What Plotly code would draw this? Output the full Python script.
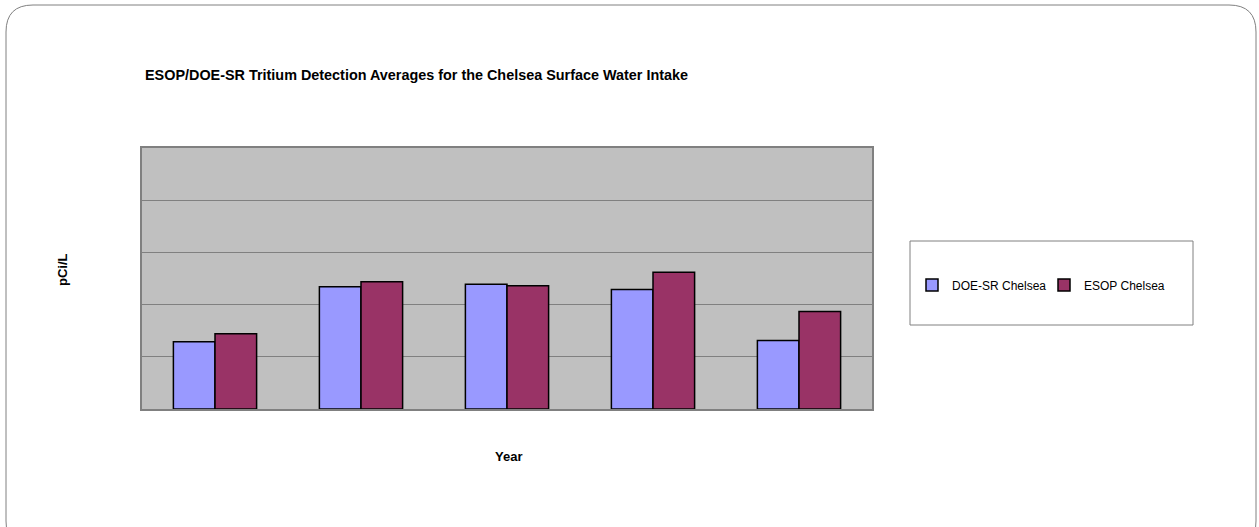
import plotly.graph_objects as go

# Data (no tick labels are shown on the chart)
categories = ["1", "2", "3", "4", "5"]
doe_sr_chelsea = [1.29, 2.34, 2.39, 2.29, 1.31]
esop_chelsea = [1.44, 2.44, 2.36, 2.62, 1.87]
y_ticks = [0, 1, 2, 3, 4, 5]

W, H = 1259, 527
# plot-area edges in page pixels
PL, PR, PT, PB = 142, 872, 148, 409
L, R, T, B = PL, PR, PT, PB


def px(x):
    """page pixel x -> paper fraction"""
    return (x - PL) / (PR - PL)


def py(y):
    """page pixel y -> paper fraction"""
    return (PB - y) / (PB - PT)


font = "Liberation Sans, Arial, sans-serif"

fig = go.Figure()
fig.add_trace(go.Bar(
    x=categories, y=doe_sr_chelsea, name="DOE-SR Chelsea",
    marker=dict(color="#9999FF", line=dict(color="#000000", width=1.5)),
))
fig.add_trace(go.Bar(
    x=categories, y=esop_chelsea, name="ESOP Chelsea",
    marker=dict(color="#993366", line=dict(color="#000000", width=1.5)),
))

# outer rounded border
r = 27
x0, x1, y0, y1 = px(6), px(1256), py(5), py(548)
rx = r / (PR - PL)
ry = r / (PB - PT)
path = (f"M {x0},{y0 - ry} Q {x0},{y0} {x0 + rx},{y0} L {x1 - rx},{y0} "
        f"Q {x1},{y0} {x1},{y0 - ry} L {x1},{y1 + ry} Q {x1},{y1} {x1 - rx},{y1} "
        f"L {x0 + rx},{y1} Q {x0},{y1} {x0},{y1 + ry} Z")

fig.update_layout(
    width=W, height=H,
    margin=dict(l=L, r=W - R, t=T, b=H - B, pad=0),
    paper_bgcolor="white",
    plot_bgcolor="#C0C0C0",
    barmode="group",
    bargap=0.43,
    bargroupgap=0,
    font=dict(family=font, size=12, color="#000000"),
    title=dict(
        text="<b>ESOP/DOE-SR Tritium Detection Averages for the Chelsea Surface Water Intake</b>",
        x=px(145), xref="paper", xanchor="left",
        y=1 - 75 / H, yref="container", yanchor="middle",
        font=dict(family=font, size=14.4, color="#000000"),
    ),
    xaxis=dict(
        showticklabels=False, ticks="", showgrid=False,
        showline=True, linecolor="#808080", linewidth=1.5, mirror=True,
    ),
    yaxis=dict(
        range=[0, 5], tickvals=y_ticks, showticklabels=False, ticks="",
        showgrid=True, gridcolor="#808080", gridwidth=1,
        showline=True, linecolor="#808080", linewidth=1.5, mirror=True,
        zeroline=False,
    ),
    showlegend=True,
    legend=dict(
        orientation="h",
        x=px(912), y=py(285), xanchor="left", yanchor="middle",
        bgcolor="rgba(0,0,0,0)", borderwidth=0,
        font=dict(family=font, size=12),
        itemwidth=30, entrywidth=87, entrywidthmode="pixels",
        traceorder="normal",
    ),
    shapes=[
        dict(type="rect", xref="paper", yref="paper",
             x0=px(910), x1=px(1193), y0=py(241), y1=py(325),
             line=dict(color="#808080", width=1), fillcolor="rgba(0,0,0,0)"),
        dict(type="path", xref="paper", yref="paper", path=path,
             line=dict(color="#808080", width=1), fillcolor="rgba(0,0,0,0)",
             layer="below"),
    ],
    annotations=[
        dict(text="<b>pCi/L</b>", xref="paper", yref="paper",
             x=px(62), y=py(270), textangle=-90, showarrow=False,
             xanchor="center", yanchor="middle",
             font=dict(family=font, size=13)),
        dict(text="<b>Year</b>", xref="paper", yref="paper",
             x=px(508), y=py(456), showarrow=False,
             xanchor="center", yanchor="middle",
             font=dict(family=font, size=13)),
    ],
)

fig.write_html(
    "out.html",
    config={"displayModeBar": False},
    post_script="document.body.style.margin='0';document.body.style.overflow='hidden';",
)
